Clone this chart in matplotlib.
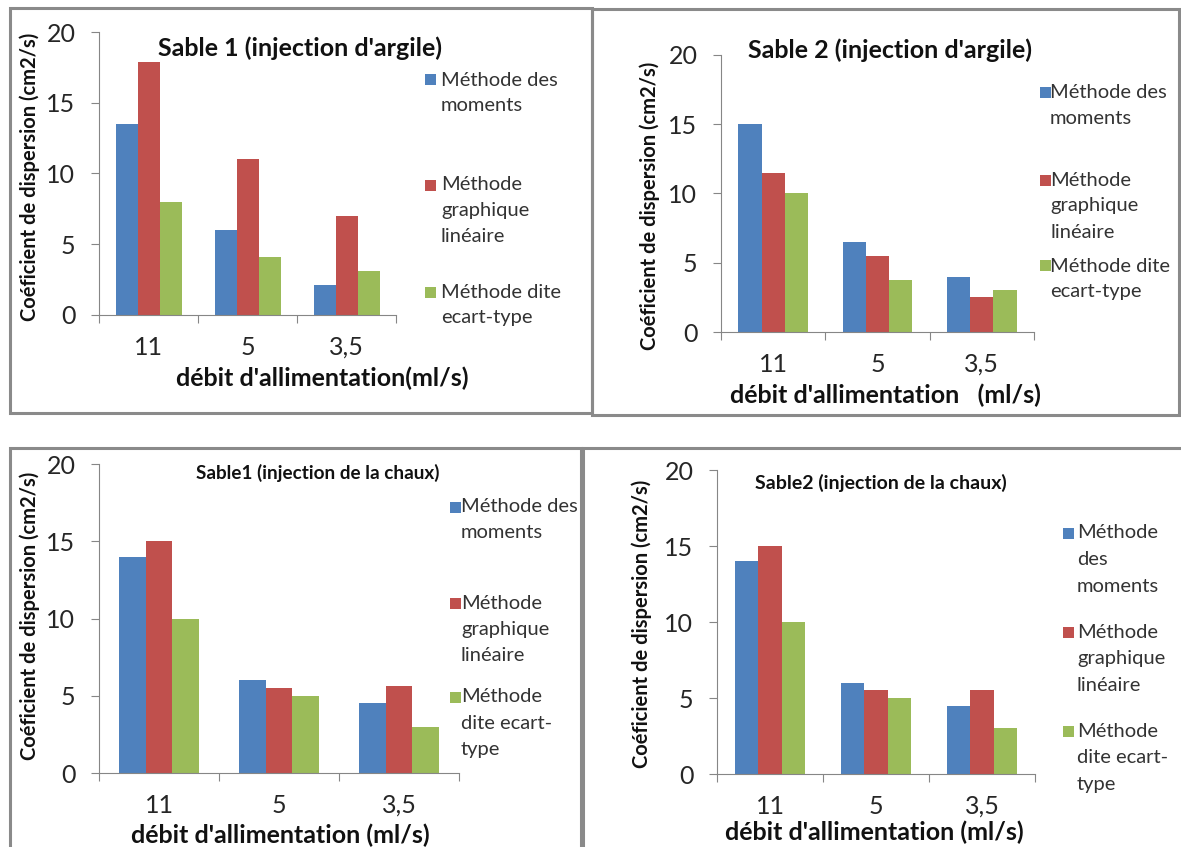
import numpy as np
import matplotlib
matplotlib.use("Agg")
import matplotlib.pyplot as plt
from matplotlib.patches import Rectangle

plt.rcParams['font.family'] = ['Lato', 'DejaVu Sans']

W, H = 1181, 847

# ---- data ----
debits = ['11', '5', '3,5']
couleurs = ['#4F81BD', '#C0504D', '#9BBB59']

# Sable 1 (injection d'argile)
s1_argile_moments = [13.5, 6.0, 2.1]
s1_argile_graphique = [17.9, 11.0, 7.0]
s1_argile_ecart = [8.0, 4.1, 3.1]

# Sable 2 (injection d'argile)
s2_argile_moments = [15.0, 6.5, 4.0]
s2_argile_graphique = [11.5, 5.5, 2.5]
s2_argile_ecart = [10.0, 3.75, 3.0]

# Sable1 (injection de la chaux)
s1_chaux_moments = [14.0, 6.0, 4.5]
s1_chaux_graphique = [15.0, 5.5, 5.6]
s1_chaux_ecart = [10.0, 5.0, 3.0]

# Sable2 (injection de la chaux)
s2_chaux_moments = [14.0, 6.0, 4.5]
s2_chaux_graphique = [15.0, 5.5, 5.5]
s2_chaux_ecart = [10.0, 5.0, 3.0]

titres = ["Sable 1 (injection d'argile)", "Sable 2 (injection d'argile)",
          "Sable1 (injection de la chaux)", "Sable2 (injection de la chaux)"]
xlabels = ["débit d'allimentation(ml/s)", "débit d'allimentation   (ml/s)",
           "débit d'allimentation (ml/s)", "débit d'allimentation (ml/s)"]
ylabel = "Coéficient de dispersion (cm2/s)"

# legend labels, wrapped as in each panel
leg_argile1 = [['Méthode des', 'moments'], ['Méthode', 'graphique', 'linéaire'],
               ['Méthode dite', 'ecart-type']]
leg_argile2 = leg_argile1
leg_chaux1 = [['Méthode des', 'moments'], ['Méthode', 'graphique', 'linéaire'],
              ['Méthode', 'dite ecart-', 'type']]
leg_chaux2 = [['Méthode', 'des', 'moments'], ['Méthode', 'graphique', 'linéaire'],
              ['Méthode', 'dite ecart-', 'type']]


def fx(x):
    return x / W


def fy(y):
    return 1 - y / H


fig = plt.figure(figsize=(W / 100, H / 100), dpi=100)

# panel frames (pixel coords: left, top, right, bottom)
frames = [(10, 8, 592, 413), (592, 9, 1179, 415), (10, 448, 581, 870), (583, 448, 1190, 870)]
for l, t, r, b in frames:
    fig.add_artist(Rectangle((fx(l), fy(b)), fx(r) - fx(l), fy(t) - fy(b),
                             transform=fig.transFigure, fill=False,
                             edgecolor='#8a8a8a', lw=2.2))

panels = [
    dict(box=(99, 32, 396, 315), series=[s1_argile_moments, s1_argile_graphique, s1_argile_ecart],
         title=(300, 48, 18), xl=(322, 378), yl=(30, 177),
         leg=leg_argile1, sq=425, tx=441, ly=[80, 185, 292], step=25.5),
    dict(box=(721, 55, 1034, 332), series=[s2_argile_moments, s2_argile_graphique, s2_argile_ecart],
         title=(890, 50, 18), xl=(885, 395), yl=(650, 206),
         leg=leg_argile2, sq=1040, tx=1050, ly=[93, 180, 266], step=26),
    dict(box=(99, 464, 459, 773), series=[s1_chaux_moments, s1_chaux_graphique, s1_chaux_ecart],
         title=(318, 473, 13.6), xl=(280, 835), yl=(30, 616),
         leg=leg_chaux1, sq=450, tx=461, ly=[507, 603, 697], step=26),
    dict(box=(717, 470, 1035, 774), series=[s2_chaux_moments, s2_chaux_graphique, s2_chaux_ecart],
         title=(881, 483, 14), xl=(874, 832), yl=(642, 624),
         leg=leg_chaux2, sq=1063, tx=1077, ly=[533, 632, 731], step=26.5),
]

x = np.arange(len(debits))
bw = 1 / 4.5  # Excel gap width 150 %

for i, p in enumerate(panels):
    l, t, r, b = p['box']
    ax = fig.add_axes([fx(l), fy(b), fx(r) - fx(l), fy(t) - fy(b)])
    for k, vals in enumerate(p['series']):
        ax.bar(x + (k - 1) * bw, vals, width=bw, color=couleurs[k], linewidth=0)
    ax.set_xlim(-0.5, 2.5)
    ax.set_ylim(0, 20)
    ax.set_yticks([0, 5, 10, 15, 20])
    ax.set_xticks([-0.5, 0.5, 1.5, 2.5])
    ax.set_xticklabels([])
    ax.set_xticks(x, minor=True)
    ax.set_xticklabels(debits, minor=True)
    ax.tick_params(axis='x', which='minor', length=0, pad=15, labelsize=18, labelcolor='#262626')
    ax.tick_params(axis='x', which='major', length=6, color='#868686', direction='out')
    ax.tick_params(axis='y', length=6, color='#868686', direction='out', pad=11,
                   labelsize=18, labelcolor='#262626')
    for s in ['top', 'right']:
        ax.spines[s].set_visible(False)
    for s in ['left', 'bottom']:
        ax.spines[s].set_color('#868686')
    ax.patch.set_alpha(0)

    tx_, ty_, ts = p['title']
    fig.text(fx(tx_), fy(ty_), titres[i], ha='center', va='center',
             fontsize=ts, fontweight='bold', color='#111111')
    fig.text(fx(p['xl'][0]), fy(p['xl'][1]), xlabels[i], ha='center', va='center',
             fontsize=18, fontweight='bold', color='#111111')
    fig.text(fx(p['yl'][0]), fy(p['yl'][1]), ylabel, ha='center', va='center',
             rotation=90, fontsize=14.5, fontweight='bold', color='#111111')

    # legend
    for k, lines in enumerate(p['leg']):
        y0 = p['ly'][k]
        fig.add_artist(Rectangle((fx(p['sq']), fy(y0 + 5.5)), 11 / W, 11 / H,
                                 transform=fig.transFigure, color=couleurs[k], lw=0))
        for j, line in enumerate(lines):
            fig.text(fx(p['tx']), fy(y0 + j * p['step']), line, ha='left', va='center',
                     fontsize=14.5, color='#333333')

fig.savefig('out.png', dpi=100)
